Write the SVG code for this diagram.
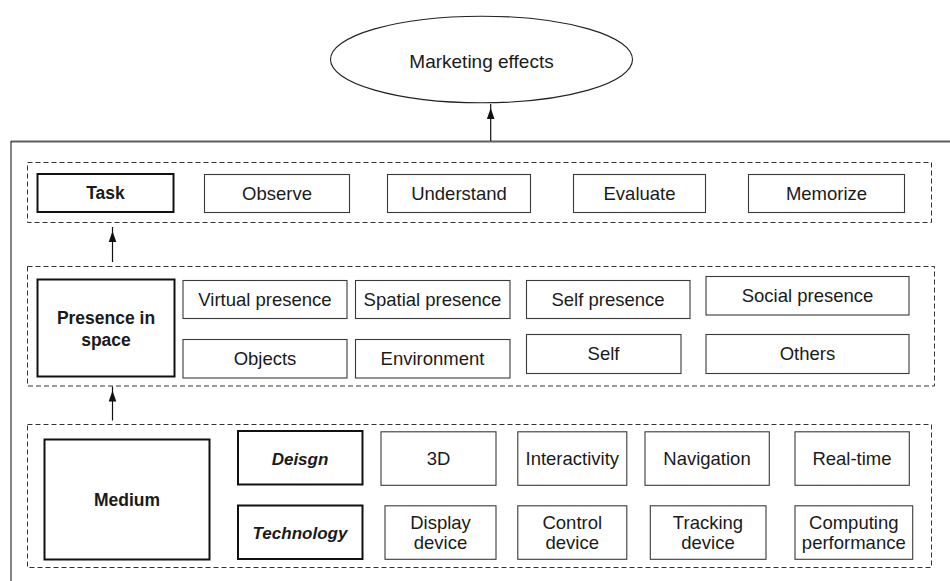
<svg xmlns="http://www.w3.org/2000/svg" width="950" height="581" viewBox="0 0 950 581">
  <style>
    text { font-family: "Liberation Sans", Arial, Helvetica, sans-serif; font-size: 18.5px; fill: #1a1a1a; text-anchor: middle; }
    .b { font-weight: bold; font-size: 17.5px; }
    .bi { font-weight: bold; font-style: italic; font-size: 17px; }
    .box { fill: #fff; stroke: #3a3a3a; stroke-width: 1.1; }
    .key { fill: #fff; stroke: #111; stroke-width: 2; }
    .group { fill: none; stroke: #333; stroke-width: 1; stroke-dasharray: 5 3; }
    .link { fill: none; stroke: #111; stroke-width: 1.2; }
  </style>
  <defs>
    <marker id="arrow" markerUnits="userSpaceOnUse" markerWidth="8" markerHeight="11" refX="4" refY="0" orient="auto-start-reverse" viewBox="0 0 8 11" overflow="visible">
      <path d="M0,0 L3.8,11 L-3.8,11 z" fill="#111" transform="rotate(90)"/>
    </marker>
  </defs>
  <rect width="950" height="581" fill="#fff"/>

  <!-- outer frame -->
  <g id="frame">
    <line x1="11" y1="141.5" x2="950" y2="141.5" stroke="#5e5e5e" stroke-width="2.2"/>
    <line x1="11" y1="141" x2="11" y2="581" stroke="#222" stroke-width="1.1"/>
  </g>

  <!-- outcome -->
  <g id="marketing-effects">
    <ellipse cx="481.5" cy="59.5" rx="151" ry="43.3" fill="#fff" stroke="#222" stroke-width="1.1"/>
    <text x="481.5" y="68" style="font-size:19px">Marketing effects</text>
  </g>

  <!-- dashed layer groups -->
  <g id="task-layer">
    <rect class="group" x="27.5" y="162.5" width="904" height="60"/>
    <g id="task"><rect class="key" x="37.5" y="174" width="136" height="38"/><text class="b" x="105.5" y="199">Task</text></g>
    <g id="observe"><rect class="box" x="204.5" y="174.5" width="145" height="38"/><text x="277" y="199.5">Observe</text></g>
    <g id="understand"><rect class="box" x="387.5" y="174.5" width="143" height="38"/><text x="459" y="199.5">Understand</text></g>
    <g id="evaluate"><rect class="box" x="573.5" y="174.5" width="132" height="38"/><text x="639.5" y="199.5">Evaluate</text></g>
    <g id="memorize"><rect class="box" x="748.5" y="174.5" width="156" height="38"/><text x="826.5" y="199.5">Memorize</text></g>
  </g>

  <g id="presence-layer">
    <rect class="group" x="27.5" y="266.5" width="907" height="119.5"/>
    <g id="presence-in-space"><rect class="key" x="37.5" y="279.5" width="137" height="97"/>
      <text class="b" x="106" y="324">Presence in</text><text class="b" x="106" y="346">space</text></g>
    <g id="virtual-presence"><rect class="box" x="183" y="280.5" width="164" height="38"/><text x="265" y="305.5">Virtual presence</text></g>
    <g id="spatial-presence"><rect class="box" x="355.5" y="280.5" width="154.5" height="38"/><text x="432.5" y="305.5">Spatial presence</text></g>
    <g id="self-presence"><rect class="box" x="526.5" y="280.5" width="163.5" height="38"/><text x="608" y="305.5">Self presence</text></g>
    <g id="social-presence"><rect class="box" x="706" y="276.5" width="203" height="38.5"/><text x="807.5" y="301.5">Social presence</text></g>
    <g id="objects"><rect class="box" x="183" y="339.5" width="164" height="38.5"/><text x="265" y="364.5">Objects</text></g>
    <g id="environment"><rect class="box" x="355.5" y="339.5" width="154.5" height="38.5"/><text x="432.5" y="364.5">Environment</text></g>
    <g id="self"><rect class="box" x="526.5" y="334.5" width="154.5" height="39"/><text x="603.5" y="359.5">Self</text></g>
    <g id="others"><rect class="box" x="706" y="334.5" width="203" height="39"/><text x="807.5" y="359.5">Others</text></g>
  </g>

  <g id="medium-layer">
    <rect class="group" x="27.5" y="424.5" width="904" height="143"/>
    <g id="medium"><rect class="key" x="44.5" y="439.5" width="165" height="120"/><text class="b" x="127" y="506">Medium</text></g>
    <g id="design"><rect class="key" x="238" y="431" width="124.5" height="53.5" stroke-width="1.6"/><text class="bi" x="300" y="464.5">Deisgn</text></g>
    <g id="technology"><rect class="key" x="238" y="505.5" width="124.5" height="53.5" stroke-width="1.6"/><text class="bi" x="300" y="538.5">Technology</text></g>
    <g id="three-d"><rect class="box" x="381" y="431.8" width="115" height="53.5"/><text x="438.5" y="464.5">3D</text></g>
    <g id="interactivity"><rect class="box" x="517.8" y="431.8" width="109" height="53.5"/><text x="572.3" y="464.5">Interactivity</text></g>
    <g id="navigation"><rect class="box" x="645" y="431.8" width="124.3" height="53.5"/><text x="707" y="464.5">Navigation</text></g>
    <g id="real-time"><rect class="box" x="795" y="431.8" width="114.3" height="53.5"/><text x="852" y="464.5">Real-time</text></g>
    <g id="display-device"><rect class="box" x="385" y="505.8" width="111" height="53.5"/><text x="440.5" y="529">Display</text><text x="440.5" y="549">device</text></g>
    <g id="control-device"><rect class="box" x="517.8" y="505.8" width="109" height="53.5"/><text x="572.3" y="529">Control</text><text x="572.3" y="549">device</text></g>
    <g id="tracking-device"><rect class="box" x="650.3" y="505.8" width="115.7" height="53.5"/><text x="708" y="529">Tracking</text><text x="708" y="549">device</text></g>
    <g id="computing-performance"><rect class="box" x="795" y="505.8" width="117.7" height="53.5"/><text x="853.8" y="529">Computing</text><text x="853.8" y="549">performance</text></g>
  </g>

  <!-- connectors -->
  <g id="connectors">
    <line class="link" x1="490.7" y1="141" x2="490.7" y2="104" marker-end="url(#arrow)"/>
    <line class="link" x1="112.5" y1="262" x2="112.5" y2="227" marker-end="url(#arrow)"/>
    <line class="link" x1="112.5" y1="420.5" x2="112.5" y2="386.5" marker-end="url(#arrow)"/>
  </g>
</svg>
